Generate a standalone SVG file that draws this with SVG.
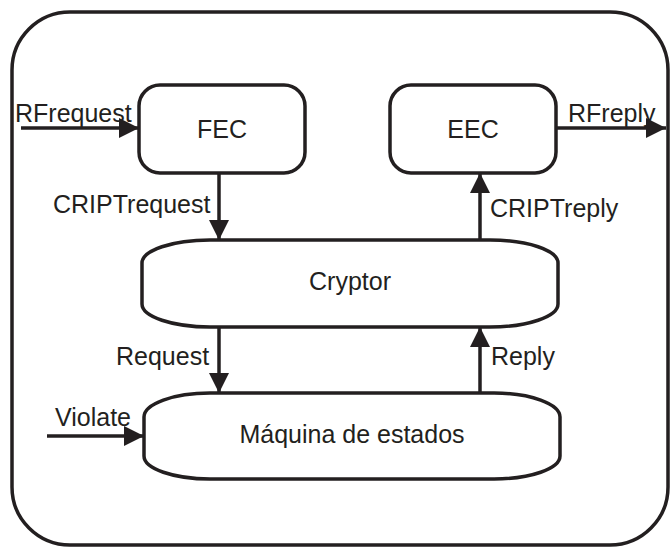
<svg xmlns="http://www.w3.org/2000/svg" width="672" height="548" viewBox="0 0 672 548">
<defs>
<style>
.box{fill:#fff;stroke:#231f20;stroke-width:3.5}
.frame{fill:#fff;stroke:#231f20;stroke-width:3.5}
.edge{stroke:#231f20;stroke-width:3.5;fill:none}
text{font-family:"Liberation Sans",Arial,sans-serif;font-size:25px;fill:#231f20}
.c{text-anchor:middle}
</style>
<marker id="ah" markerUnits="userSpaceOnUse" markerWidth="20" markerHeight="20" refX="20" refY="10" orient="auto">
<path d="M0,0 L20,10 L0,20 Z" fill="#231f20"/>
</marker>
</defs>
<rect width="672" height="548" fill="#fff"/>
<rect class="frame" x="12" y="12" width="656" height="533" rx="58" ry="58"/>
<g id="fec">
<rect class="box" x="139" y="85" width="166" height="88" rx="21" ry="21"/>
<text class="c" x="222" y="138">FEC</text>
</g>
<g id="eec">
<rect class="box" x="390" y="85" width="166" height="88" rx="21" ry="21"/>
<text class="c" x="473" y="138">EEC</text>
</g>
<g id="cryptor">
<path class="box" d="M210 240 H490 A68 23 0 0 1 558 263 V304 A68 23 0 0 1 490 327 H210 A68 23 0 0 1 142 304 V263 A68 23 0 0 1 210 240 Z"/>
<text class="c" x="350" y="290">Cryptor</text>
</g>
<g id="maquina">
<path class="box" d="M210 393 H494 A66 24 0 0 1 560 417 V456 A66 23 0 0 1 494 479 H210 A66 23 0 0 1 144 456 V417 A66 24 0 0 1 210 393 Z"/>
<text class="c" x="352" y="443">Máquina de estados</text>
</g>
<g id="connectors">
<line class="edge" x1="21" y1="128" x2="139" y2="128" marker-end="url(#ah)"/>
<line class="edge" x1="219" y1="173" x2="219" y2="240" marker-end="url(#ah)"/>
<line class="edge" x1="480" y1="240" x2="480" y2="173" marker-end="url(#ah)"/>
<line class="edge" x1="556" y1="128" x2="666" y2="128" marker-end="url(#ah)"/>
<line class="edge" x1="219" y1="327" x2="219" y2="393" marker-end="url(#ah)"/>
<line class="edge" x1="480" y1="393" x2="480" y2="327" marker-end="url(#ah)"/>
<line class="edge" x1="47" y1="436" x2="144" y2="436" marker-end="url(#ah)"/>
<text x="15" y="122">RFrequest</text>
<text x="53" y="213">CRIPTrequest</text>
<text x="490" y="217">CRIPTreply</text>
<text x="568" y="122">RFreply</text>
<text x="116" y="365">Request</text>
<text x="491" y="365">Reply</text>
<text x="55" y="426">Violate</text>
</g>
</svg>
